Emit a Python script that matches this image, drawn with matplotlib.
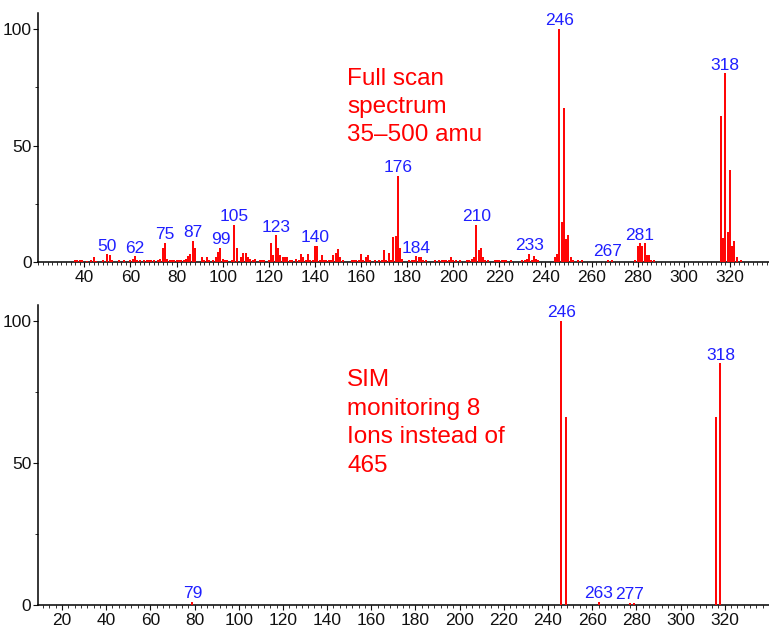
import matplotlib
matplotlib.use("Agg")
import matplotlib.pyplot as plt
from matplotlib.ticker import MultipleLocator

plt.rcParams.update({
    "font.family": ["Liberation Sans", "DejaVu Sans"],
    "font.size": 12,
    "axes.linewidth": 1.1,
    "xtick.major.size": 3.5,
    "ytick.major.size": 3.5,
    "xtick.minor.size": 2,
    "ytick.minor.size": 2.5,
    "xtick.major.pad": 2,
    "ytick.major.pad": 1,
})

RED = "#ff0000"
BLUE = "#1f1fff"

# --- full scan spectrum (m/z, relative intensity) ---------------------------
full_mz = [36, 37, 38, 39, 41, 43, 44, 45, 48, 50, 51, 52, 55, 57, 60, 61, 62,
           63, 64, 66, 67, 68, 69, 70, 72, 73, 74, 75, 76, 77, 78, 79, 80, 81,
           82, 83, 84, 85, 86, 87, 88, 91, 92, 93, 94, 96, 97, 98, 99, 100,
           101, 102, 104, 105, 106, 108, 109, 110, 111, 112, 113, 114, 116,
           117, 118, 120, 121, 122, 123, 124, 125, 126, 127, 128, 129, 130,
           132, 133, 134, 135, 136, 137, 138, 139, 140, 141, 142, 143, 144,
           145, 146, 147, 148, 149, 150, 151, 152, 156, 157, 158, 159, 160,
           161, 162, 163, 164, 166, 168, 169, 170, 171, 172, 173, 174, 175,
           176, 177, 178, 181, 182, 183, 184, 185, 186, 187, 188, 192, 194,
           195, 196, 197, 198, 199, 200, 201, 203, 206, 207, 208, 209, 210,
           211, 212, 213, 214, 215, 218, 219, 220, 221, 222, 223, 225, 230,
           231, 232, 233, 234, 235, 236, 237, 244, 245, 246, 247, 248, 249,
           250, 251, 252, 254, 256, 267, 269, 279, 280, 281, 282, 283, 284,
           285, 286, 287, 316, 317, 318, 319, 320, 321, 322, 323, 325]
full_int = [1, 1, 1, 1, 0.5, 0.8, 2, 0.5, 1, 3.3, 3, 1, 0.8, 1, 0.8, 1.2, 2.5,
            1, 0.8, 1, 0.8, 1, 0.8, 1, 1, 1.5, 6, 8.3, 1.5, 1, 0.8, 1, 1, 1,
            1, 1, 1.5, 2.5, 3.5, 9, 6, 2, 1, 2, 1, 1, 2, 4.5, 6, 1.5,
            1, 0.8, 1, 16, 6, 2, 4, 4, 2, 1.5, 1, 1.5, 1,
            0.8, 1, 1, 8.3, 3, 11.5, 6, 3, 2, 2, 2, 1, 1,
            1.5, 1, 3.5, 2, 1, 3.5, 1, 1, 7, 7, 1, 3, 1,
            1, 1, 1, 3, 4, 5.5, 2, 1, 1, 1, 1, 1, 3.5,
            1, 2, 3, 1, 1, 1, 1, 5, 1, 4, 1, 10.6, 11,
            37, 6, 1.5, 1, 1, 1, 2.5, 2, 2, 1, 1, 0.8, 1,
            1, 1, 1, 1, 2, 1, 1, 0.8, 1, 1, 1.5, 2, 16,
            5, 6, 2, 1, 0.8, 1, 1, 1, 1, 1, 1, 0.8, 0.8,
            1, 1.5, 3.5, 1, 2.5, 1.5, 1, 2, 3.5, 100, 17, 66, 10,
            11.5, 2, 1, 1, 1, 1, 1, 1, 7, 8, 7, 8, 3,
            3, 1, 1, 62.5, 10.5, 81, 13, 39.5, 7, 9, 2, 1]
full_labels = [50, 62, 75, 87, 99, 105, 123, 140, 176, 184, 210, 233, 246,
               267, 281, 318]

# --- SIM spectrum ------------------------------------------------------------
sim_mz = [79, 246, 248, 263, 277, 279, 316, 318]
sim_int = [1.2, 100, 66, 1, 0.8, 0.8, 66, 85]
sim_labels = [79, 246, 263, 277, 318]

fig = plt.figure(figsize=(7.69, 6.27), dpi=100)
ax1 = fig.add_axes([0.0498, 0.5821, 0.9502, 0.3976])
ax2 = fig.add_axes([0.0490, 0.0351, 0.9510, 0.4785])


def style(ax, xlim, ylim, xticks, xminor):
    for s in ("top", "right"):
        ax.spines[s].set_visible(False)
    ax.set_xlim(*xlim)
    ax.set_ylim(*ylim)
    ax.set_xticks(xticks)
    ax.xaxis.set_minor_locator(MultipleLocator(xminor))
    ax.set_yticks([0, 50, 100])
    ax.yaxis.set_minor_locator(MultipleLocator(25))
    ax.tick_params(which="both", direction="out", colors="#111",
                   labelsize=12.5)


def spectrum(ax, mz, inten, labels):
    ax.vlines(mz, 0, inten, color=RED, lw=1.4, zorder=3)
    lookup = dict(zip(mz, inten))
    for m in labels:
        ax.annotate(str(m), (m, lookup[m]), xytext=(0, 0.5),
                    textcoords="offset points", ha="center", va="bottom",
                    color=BLUE, fontsize=12.5)


spectrum(ax1, full_mz, full_int, full_labels)
style(ax1, (20, 337), (0, 107), range(40, 321, 20), 2)
ax1.text(0.4225, 0.78, "Full scan\nspectrum\n35\u2013500 amu",
         transform=ax1.transAxes, ha="left", va="top", color=RED,
         fontsize=17.5, linespacing=1.38)

spectrum(ax2, sim_mz, sim_int, sim_labels)
style(ax2, (9, 340), (0, 105.6), range(20, 321, 20), 20 / 7)
ax2.text(0.4235, 0.785, "SIM\nmonitoring 8\nIons instead of\n465",
         transform=ax2.transAxes, ha="left", va="top", color=RED,
         fontsize=17.5, linespacing=1.38)

fig.savefig("out.png", dpi=100, facecolor="white")
